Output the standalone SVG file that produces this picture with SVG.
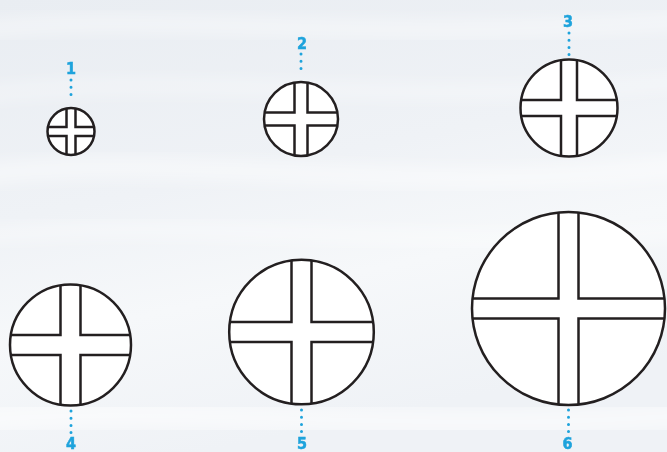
<svg xmlns="http://www.w3.org/2000/svg" width="667" height="452" viewBox="0 0 667 452">
<defs>
<linearGradient id="bg" x1="0" y1="0" x2="0.3" y2="1">
<stop offset="0" stop-color="#e9edf2"/>
<stop offset="0.45" stop-color="#eff2f6"/>
<stop offset="0.7" stop-color="#f6f8fa"/>
<stop offset="1" stop-color="#eff2f6"/>
</linearGradient>
<filter id="blur" x="-20%" y="-100%" width="140%" height="300%"><feGaussianBlur stdDeviation="9"/></filter>
<style>
.disc{fill:#fff;stroke:#231f20;stroke-width:2.5}
.slot{fill:none;stroke:#231f20;stroke-width:2.5;stroke-linejoin:miter}
.lead{fill:none;stroke:#1ea3dc;stroke-width:3;stroke-linecap:round;stroke-dasharray:0 7.2}
.lbl{font-family:'DejaVu Sans Condensed','Liberation Sans Narrow','Roboto Condensed',sans-serif;font-stretch:condensed;font-weight:bold;font-size:16px;fill:#1ea3dc;stroke:#1ea3dc;stroke-width:0.5;text-anchor:middle}
.streak{fill:none;stroke:#fff;stroke-linecap:round;filter:url(#blur)}
</style>
</defs>
<rect width="667" height="452" fill="url(#bg)"/>
<g opacity="0.55">
<path class="streak" stroke-width="14" d="M-20,30 C150,10 350,45 690,20"/>
<path class="streak" stroke-width="10" d="M-20,95 C200,70 420,110 690,80"/>
<path class="streak" stroke-width="18" d="M-20,175 C180,150 420,200 690,165"/>
<path class="streak" stroke-width="12" d="M-20,235 C220,215 430,255 690,230"/>
<path class="streak" stroke-width="30" d="M-20,420 C200,405 420,435 690,415"/>
</g>
<g id="connectors">
<path class="lead" d="M71,80 V101"/>
<path class="lead" d="M301,54 V75"/>
<path class="lead" d="M569,33 V55"/>
<path class="lead" d="M71,411 V433"/>
<path class="lead" d="M301.5,410 V432"/>
<path class="lead" d="M568.5,410 V433"/>
</g>
<g id="node1">
<circle class="disc" cx="71" cy="131.5" r="23.5"/>
<path class="slot" d="M66.5,108.43 V127 H47.93 M75.5,108.43 V127 H94.07 M66.5,154.57 V136 H47.93 M75.5,154.57 V136 H94.07"/>
<text class="lbl" x="71" y="74">1</text>
</g>
<g id="node2">
<circle class="disc" cx="301" cy="119" r="37"/>
<path class="slot" d="M294.5,82.58 V112.5 H264.58 M307.5,82.58 V112.5 H337.42 M294.5,155.42 V125.5 H264.58 M307.5,155.42 V125.5 H337.42"/>
<text class="lbl" x="302" y="48.5">2</text>
</g>
<g id="node3">
<circle class="disc" cx="569" cy="108" r="48.5"/>
<path class="slot" d="M561,60.16 V100 H521.16 M577,60.16 V100 H616.84 M561,155.84 V116 H521.16 M577,155.84 V116 H616.84"/>
<text class="lbl" x="568" y="26.5">3</text>
</g>
<g id="node4">
<circle class="disc" cx="70.5" cy="345" r="60.5"/>
<path class="slot" d="M60.5,285.33 V335 H10.83 M80.5,285.33 V335 H130.17 M60.5,404.67 V355 H10.83 M80.5,404.67 V355 H130.17"/>
<text class="lbl" x="71" y="448.5">4</text>
</g>
<g id="node5">
<circle class="disc" cx="301.5" cy="332" r="72.3"/>
<path class="slot" d="M291.5,260.39 V322 H229.89 M311.5,260.39 V322 H373.11 M291.5,403.61 V342 H229.89 M311.5,403.61 V342 H373.11"/>
<text class="lbl" x="302" y="448.5">5</text>
</g>
<g id="node6">
<circle class="disc" cx="568.5" cy="308.5" r="96.5"/>
<path class="slot" d="M558.5,212.52 V298.5 H472.52 M578.5,212.52 V298.5 H664.48 M558.5,404.48 V318.5 H472.52 M578.5,404.48 V318.5 H664.48"/>
<text class="lbl" x="567.5" y="448.5">6</text>
</g>
</svg>
